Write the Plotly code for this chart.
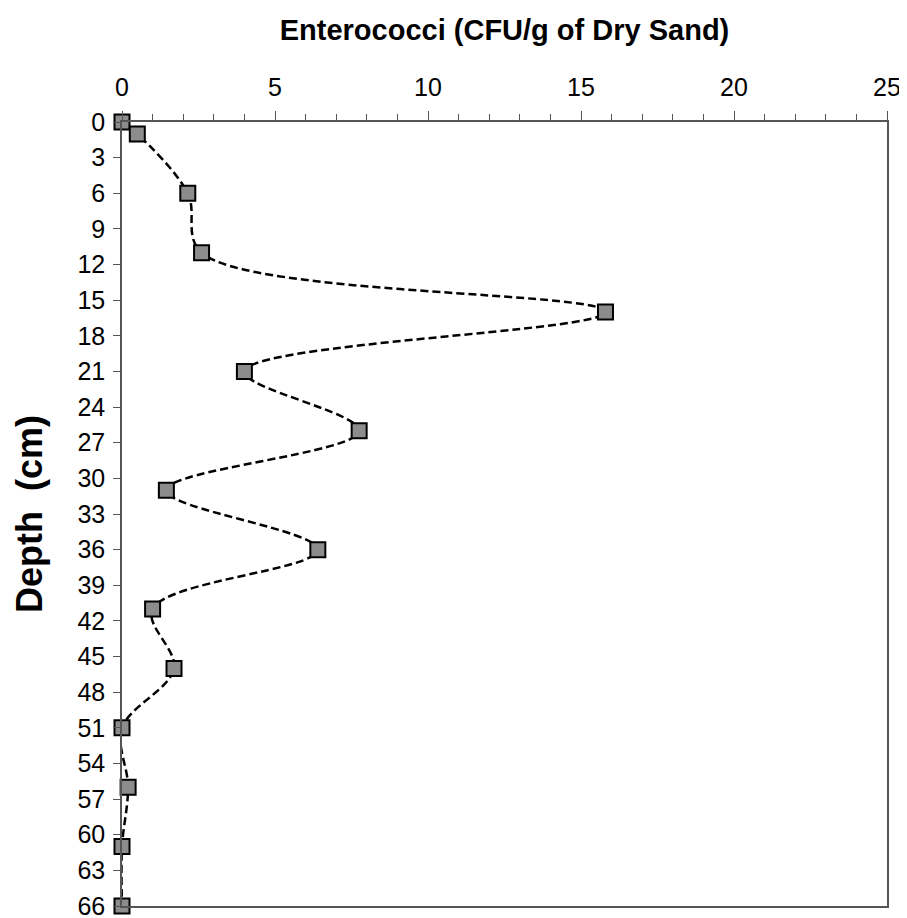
import plotly.graph_objects as go

# Enterococci profile
depth_cm = [0, 1, 6, 11, 16, 21, 26, 31, 36, 41, 46, 51, 56, 61, 66]
cfu_per_g = [0.0, 0.5, 2.15, 2.6, 15.8, 4.0, 7.75, 1.45, 6.4, 1.0, 1.7, 0.0, 0.2, 0.0, 0.0]

x_ticks = [0, 5, 10, 15, 20, 25]
y_ticks = list(range(0, 67, 3))

fig = go.Figure()

fig.add_trace(
    go.Scatter(
        x=cfu_per_g,
        y=depth_cm,
        mode="lines+markers",
        line=dict(color="black", width=2.5, dash="8px,4px", shape="spline", smoothing=1),
        marker=dict(
            symbol="square",
            size=15,
            color="#8c8c8c",
            line=dict(color="black", width=2),
        ),
        cliponaxis=False,
        showlegend=False,
    )
)

axis_font = dict(family="Liberation Sans, Arial, sans-serif", size=25, color="black")
title_family = "Liberation Sans, Arial, sans-serif"

# the page body adds ~8px around the figure, margins compensate for it
fig.update_layout(
    width=907,
    height=918,
    margin=dict(l=114, r=28, t=114, b=20),
    paper_bgcolor="white",
    plot_bgcolor="white",
    xaxis=dict(
        side="top",
        range=[0, 25],
        tickvals=x_ticks,
        ticks="outside",
        ticklen=9,
        tickcolor="#555555",
        tickwidth=1,
        minor=dict(dtick=1, ticks="outside", ticklen=6, tickcolor="#555555"),
        showgrid=False,
        zeroline=False,
        showline=True,
        linecolor="#555555",
        linewidth=1.5,
        mirror=True,
        automargin=False,
        ticklabelstandoff=5,
        tickfont=axis_font,
        title=dict(
            text="<b>Enterococci (CFU/g of Dry Sand)</b>",
            font=dict(family=title_family, size=29, color="black"),
            standoff=24,
        ),
    ),
    yaxis=dict(
        range=[66, 0],
        tickvals=y_ticks,
        ticks="outside",
        ticklen=7,
        tickcolor="#555555",
        showgrid=False,
        zeroline=False,
        showline=True,
        linecolor="#555555",
        linewidth=1.5,
        mirror=True,
        automargin=False,
        ticklabelstandoff=3,
        tickfont=axis_font,
        title=dict(
            text="<b>Depth  (cm)</b>",
            font=dict(family=title_family, size=36, color="black"),
            standoff=24,
        ),
    ),
)

fig.write_html("out.html")
